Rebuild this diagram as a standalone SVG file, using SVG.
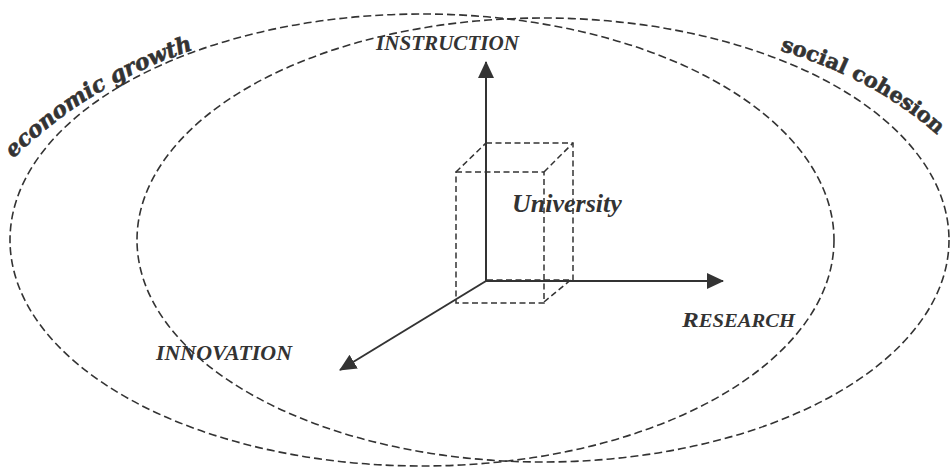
<svg xmlns="http://www.w3.org/2000/svg" width="952" height="467" viewBox="0 0 952 467">
<style>
.dash{fill:none;stroke:#333;stroke-width:1.6;stroke-dasharray:8 4}
.box{fill:none;stroke:#333;stroke-width:1.5;stroke-dasharray:6 3.5}
.axis{fill:none;stroke:#333;stroke-width:2}
.lbl{font-family:"Liberation Serif","Times New Roman",serif;font-weight:bold;font-style:italic;fill:#333}
.arc{font-family:"DejaVu Serif",serif;font-weight:bold;fill:#333;stroke:#333;stroke-width:0.6}
</style>
<defs>
<marker id="ah" markerUnits="userSpaceOnUse" markerWidth="18" markerHeight="18" viewBox="0 0 18 18" refX="16" refY="9" orient="auto">
<path d="M0,1 L17,9 L0,17 Z" fill="#333"/>
</marker>
<path id="pEco" d="M 12 160 Q 90 82 205 46"/>
<path id="pSoc" d="M 778 50 Q 880 80 945 142"/>
</defs>
<rect width="952" height="467" fill="#fff"/>
<g id="economic-growth">
<ellipse class="dash" cx="422" cy="240" rx="412" ry="226"/>
<text class="arc" font-style="italic" font-size="22"><textPath href="#pEco" startOffset="2">economic growth</textPath></text>
</g>
<g id="social-cohesion">
<ellipse class="dash" cx="543" cy="240" rx="406" ry="222"/>
<text class="arc" font-size="21"><textPath href="#pSoc" startOffset="2">social cohesion</textPath></text>
</g>
<g id="university">
<rect class="box" x="486" y="143" width="87" height="137"/>
<rect class="box" x="456" y="172" width="88" height="131"/>
<path class="box" d="M456,172 L486,143 M544,172 L573,143 M544,302 L573,278"/>
<text class="lbl" x="512" y="212" font-size="26">University</text>
</g>
<g id="connectors">
<line class="axis" x1="486" y1="281" x2="486" y2="62" marker-end="url(#ah)"/>
<line class="axis" x1="486" y1="281" x2="723" y2="281" marker-end="url(#ah)"/>
<line class="axis" x1="486" y1="281" x2="340" y2="370" marker-end="url(#ah)"/>
</g>
<g id="instruction">
<text class="lbl" x="376" y="50" font-size="22" textLength="143" lengthAdjust="spacingAndGlyphs">INSTRUCTION</text>
</g>
<g id="research">
<text class="lbl" x="682" y="327" textLength="113" lengthAdjust="spacingAndGlyphs"><tspan font-size="22">R</tspan><tspan font-size="18">ESEARCH</tspan></text>
</g>
<g id="innovation">
<text class="lbl" x="156" y="360" font-size="22" textLength="136" lengthAdjust="spacingAndGlyphs">INNOVATION</text>
</g>
</svg>
